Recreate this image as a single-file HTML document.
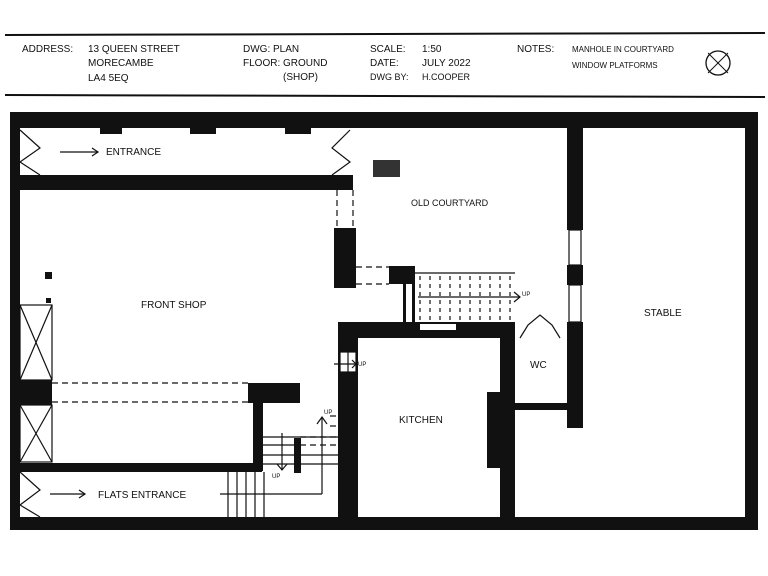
<!DOCTYPE html>
<html><head><style>
body{margin:0;background:#fff;}
svg{display:block;}
text{font-family:"Liberation Sans",sans-serif;font-size:10px;fill:#111;}
</style></head><body>
<svg width="768" height="576" viewBox="0 0 768 576" xmlns="http://www.w3.org/2000/svg">
<rect width="768" height="576" fill="#fff"/>
<line x1="5" y1="35" x2="765" y2="33" stroke="#111" stroke-width="2"/>
<line x1="5" y1="95" x2="765" y2="97" stroke="#111" stroke-width="2"/>
<text x="22" y="52">ADDRESS:</text>
<text x="88" y="52">13 QUEEN STREET</text>
<text x="88" y="66">MORECAMBE</text>
<text x="88" y="81">LA4 5EQ</text>
<text x="243" y="52">DWG: PLAN</text>
<text x="243" y="66">FLOOR: GROUND</text>
<text x="283" y="80">(SHOP)</text>
<text x="370" y="52">SCALE:</text><text x="422" y="52">1:50</text>
<text x="370" y="66">DATE:</text><text x="422" y="66">JULY 2022</text>
<text x="370" y="80" style="font-size:9px">DWG BY:</text><text x="422" y="80" style="font-size:9px">H.COOPER</text>
<text x="517" y="52">NOTES:</text>
<text x="572" y="52" style="font-size:8px">MANHOLE IN COURTYARD</text>
<text x="572" y="68" style="font-size:8px">WINDOW PLATFORMS</text>
<circle cx="718" cy="63" r="12" fill="none" stroke="#111" stroke-width="1.3"/>
<line x1="708" y1="53" x2="728" y2="73" stroke="#111"/><line x1="728" y1="53" x2="708" y2="73" stroke="#111"/>
<g fill="#111">
<rect x="10" y="112" width="748" height="16"/>
<rect x="10" y="112" width="10" height="418"/>
<rect x="10" y="517" width="748" height="13"/>
<rect x="745" y="112" width="13" height="418"/>
<rect x="100" y="126" width="22" height="8"/>
<rect x="190" y="126" width="26" height="8"/>
<rect x="285" y="126" width="26" height="8"/>
<rect x="10" y="175" width="343" height="15"/>
<rect x="334" y="228" width="22" height="60"/>
<rect x="389" y="266" width="26" height="18"/>
<rect x="403" y="284" width="3" height="38"/><rect x="412" y="284" width="3" height="38"/>
<rect x="338" y="322" width="177" height="16"/>
<rect x="338" y="322" width="20" height="198"/>
<rect x="500" y="322" width="15" height="198"/>
<rect x="487" y="392" width="14" height="76"/>
<rect x="515" y="403" width="55" height="7"/>
<rect x="567" y="126" width="16" height="104"/>
<rect x="567" y="265" width="16" height="20"/>
<rect x="567" y="322" width="16" height="106"/>
<rect x="10" y="463" width="252" height="9"/>
<rect x="248" y="383" width="52" height="20"/>
<rect x="253" y="403" width="10" height="68"/>
<rect x="18" y="380" width="34" height="25"/>
<rect x="45" y="272" width="7" height="7"/>
<rect x="46" y="298" width="5" height="5"/>
<rect x="294" y="438" width="7" height="35"/>
</g>
<rect x="420" y="324" width="36" height="6" fill="#fff"/>
<rect x="373" y="160" width="27" height="17" fill="#333"/>
<g stroke="#111" fill="none" stroke-width="1.2">
<polyline points="20,130 40,148 20,162 40,175"/>
<polyline points="350,130 332,148 350,162 332,175"/>
<polyline points="20,472 40,490 20,505 40,517"/>
<rect x="20" y="305" width="32" height="75" fill="#fff"/><line x1="20" y1="305" x2="52" y2="380"/><line x1="52" y1="305" x2="20" y2="380"/>
<rect x="20" y="405" width="32" height="57" fill="#fff"/><line x1="20" y1="405" x2="52" y2="462"/><line x1="52" y1="405" x2="20" y2="462"/>
<rect x="569" y="230" width="12" height="35" fill="#fff"/><rect x="569" y="285" width="12" height="37" fill="#fff"/>
<rect x="340" y="352" width="16" height="20" fill="#fff"/><line x1="348" y1="352" x2="348" y2="372"/>
<g stroke-dasharray="6,4">
<line x1="337" y1="190" x2="337" y2="228"/><line x1="353" y1="190" x2="353" y2="228"/>
<line x1="356" y1="267" x2="389" y2="267"/><line x1="356" y1="284" x2="389" y2="284"/>
<line x1="52" y1="383" x2="248" y2="383"/><line x1="52" y1="402" x2="248" y2="402"/>
<line x1="300" y1="437" x2="338" y2="437"/><line x1="300" y1="445" x2="338" y2="445"/>
<line x1="330" y1="416" x2="338" y2="416"/><line x1="330" y1="426" x2="338" y2="426"/>
</g>
<g stroke-dasharray="4,4">
<line x1="420" y1="276" x2="420" y2="322"/><line x1="430" y1="276" x2="430" y2="322"/>
<line x1="440" y1="276" x2="440" y2="322"/><line x1="450" y1="276" x2="450" y2="322"/>
<line x1="460" y1="276" x2="460" y2="322"/><line x1="470" y1="276" x2="470" y2="322"/>
<line x1="480" y1="276" x2="480" y2="322"/><line x1="490" y1="276" x2="490" y2="322"/>
<line x1="500" y1="276" x2="500" y2="322"/><line x1="510" y1="276" x2="510" y2="322"/>
</g>
<line x1="415" y1="273" x2="515" y2="273"/>
<line x1="418" y1="297" x2="520" y2="297"/><polyline points="514,292 520,297 514,302"/>
<line x1="263" y1="437" x2="338" y2="437"/>
<line x1="263" y1="445" x2="294" y2="445"/><line x1="263" y1="455" x2="338" y2="455"/>
<line x1="263" y1="464" x2="338" y2="464"/>
<line x1="228" y1="472" x2="228" y2="518"/><line x1="237" y1="472" x2="237" y2="518"/><line x1="246" y1="472" x2="246" y2="518"/><line x1="255" y1="472" x2="255" y2="518"/><line x1="264" y1="472" x2="264" y2="518"/>
<line x1="220" y1="494" x2="322" y2="494"/><line x1="322" y1="494" x2="322" y2="418"/>
<polyline points="317,424 322,417 327,424"/>
<line x1="282" y1="433" x2="282" y2="470"/><polyline points="277,464 282,470 287,464"/>
<line x1="334" y1="364" x2="356" y2="364"/><polyline points="352,360 356,364 352,368"/>
<line x1="60" y1="152" x2="98" y2="152"/><polyline points="92,148 98,152 92,156"/>
<line x1="50" y1="494" x2="85" y2="494"/><polyline points="79,490 85,494 79,498"/>
<polyline points="520,338 528,325 540,315 552,325 560,338"/>
</g>
<text x="106" y="155">ENTRANCE</text>
<text x="98" y="498">FLATS ENTRANCE</text>
<text x="141" y="308">FRONT SHOP</text>
<text x="411" y="206" style="font-size:9px">OLD COURTYARD</text>
<text x="644" y="316">STABLE</text>
<text x="530" y="368">WC</text>
<text x="399" y="423">KITCHEN</text>
<text x="522" y="296" style="font-size:6px">UP</text>
<text x="358" y="366" style="font-size:6px">UP</text>
<text x="324" y="414" style="font-size:6px">UP</text>
<text x="272" y="478" style="font-size:6px">UP</text>
</svg>
</body></html>
